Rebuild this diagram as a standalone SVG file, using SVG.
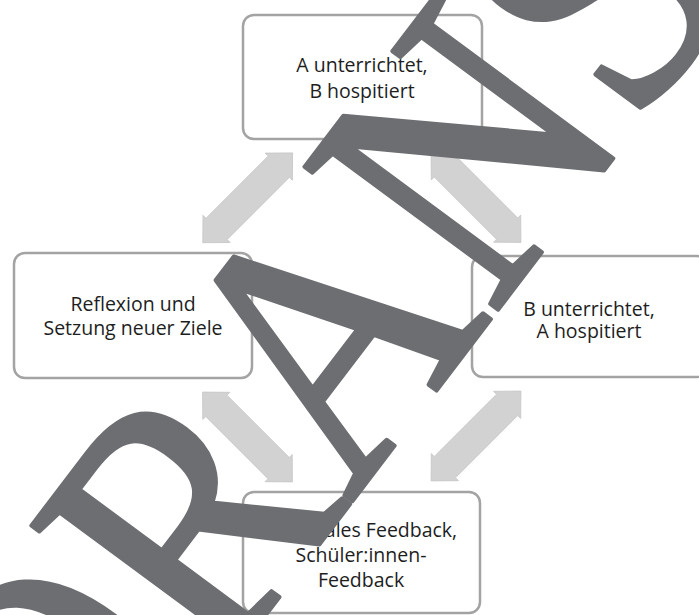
<svg xmlns="http://www.w3.org/2000/svg" width="699" height="615" viewBox="0 0 699 615">
  <style>
    .box { fill: #ffffff; stroke: #a3a3a3; stroke-width: 2.5; }
    .lbl { font-family: "Open Sans", "Noto Sans", "Liberation Sans", sans-serif; font-size: 19.5px; fill: #1e1e1e; text-anchor: middle; }
    .arr { fill: #d2d2d2; stroke: #c6c6c6; stroke-width: 0.8; }
    .wm { font-family: "Liberation Serif", "DejaVu Serif", serif; font-size: 100px; fill: #6d6e71; stroke: #6d6e71; stroke-width: 1.2; stroke-linejoin: round; font-kerning: none; }
  </style>
  <defs>
    <polygon id="dblarrow" points="63.5,0 44,-19.2 44,-15 -44,-15 -44,-19.2 -63.5,0 -44,19.2 -44,15 44,15 44,19.2"/>
  </defs>

  <g id="connectors">
    <use href="#dblarrow" class="arr" transform="translate(247.7,197.8) rotate(-45)"/>
    <use href="#dblarrow" class="arr" transform="translate(476,197.5) rotate(45)"/>
    <use href="#dblarrow" class="arr" transform="translate(247.5,437) rotate(45)"/>
    <use href="#dblarrow" class="arr" transform="translate(476,436) rotate(-45)"/>
  </g>

  <g id="node-top">
    <rect class="box" x="243" y="15" width="239" height="124" rx="11"/>
    <text class="lbl" x="362" y="72">A unterrichtet,</text>
    <text class="lbl" x="362" y="98">B hospitiert</text>
  </g>

  <g id="node-left">
    <rect class="box" x="14" y="253" width="238" height="125" rx="11"/>
    <text class="lbl" x="133" y="311">Reflexion und</text>
    <text class="lbl" x="133" y="335">Setzung neuer Ziele</text>
  </g>

  <g id="node-right">
    <rect class="box" x="472" y="256" width="236" height="121" rx="11"/>
    <text class="lbl" x="589" y="316">B unterrichtet,</text>
    <text class="lbl" x="589" y="338">A hospitiert</text>
  </g>

  <g id="node-bottom">
    <rect class="box" x="243" y="492" width="237" height="121" rx="11"/>
    <text class="lbl" x="361" y="537">Kollegiales Feedback,</text>
    <text class="lbl" x="361" y="562">Schüler:innen-</text>
    <text class="lbl" x="361" y="587">Feedback</text>
  </g>

  <g id="watermark">
    <text class="wm" transform="matrix(1.966,-2.583,2.953,2.180,-64.8,1049.0)">VORANSICHT</text>
  </g>
</svg>
